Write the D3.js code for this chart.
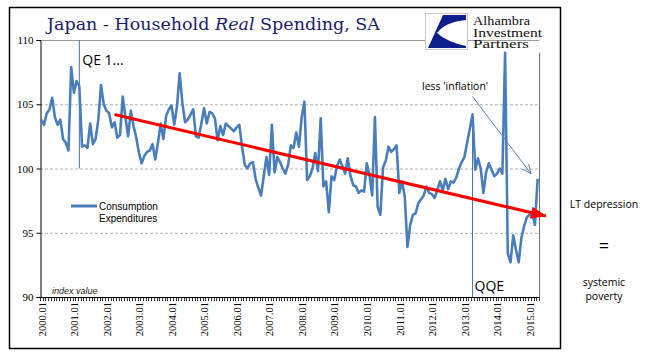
<!DOCTYPE html>
<html>
<head>
<meta charset="utf-8">
<script src="https://cdn.jsdelivr.net/npm/d3@7/dist/d3.min.js"></script>
<style>
  body { margin: 0; background: #fff; }
  svg { display: block; }
</style>
</head>
<body>
<svg id="chart" width="645" height="361"></svg>
<script>
// monthly index values, 2000.01 .. 2015.04
const values = [
  103.8, 103.4, 104.3, 104.6, 105.5, 104.0, 103.4, 103.8, 102.3, 102.0, 101.4, 107.9,
  105.9, 106.8, 106.4, 101.7, 101.8, 101.6, 103.5, 101.9, 102.3, 103.8, 106.5, 105.0,
  104.5, 104.3, 103.2, 103.6, 102.4, 102.6, 105.6, 104.0, 102.5, 104.5, 103.3, 102.4,
  101.2, 100.4, 101.0, 101.3, 101.4, 101.9, 100.7, 102.0, 103.5, 102.3, 104.1, 104.6,
  104.9, 103.4, 104.8, 107.4, 105.1, 103.6, 103.8, 104.2, 104.6, 102.5, 102.4, 103.5,
  104.7, 103.5, 104.4, 104.3, 103.9, 102.2, 103.3, 102.6, 103.5, 103.3, 103.1, 102.9,
  103.2, 103.4, 101.7, 100.3, 100.0, 100.4, 100.5, 99.2, 98.5, 97.9, 99.4, 100.9,
  99.5, 103.4, 99.7, 100.9, 100.5, 100.0, 99.6, 100.3, 101.8, 101.6, 102.8, 101.7,
  104.0, 105.2, 99.1, 99.4, 100.0, 101.2, 99.8, 103.9, 98.6, 99.0, 96.6, 99.4,
  99.1, 100.2, 100.7, 100.2, 99.6, 100.8, 99.4, 98.7, 98.6, 98.1, 98.3, 98.2,
  100.4, 99.5, 97.9, 104.0, 97.0, 96.4, 100.1, 100.6, 101.7, 101.3, 101.5, 101.8,
  98.1, 99.0, 97.8, 93.9, 95.6, 96.4, 96.5, 97.3, 97.6, 97.9, 98.6, 98.1,
  98.0, 97.7, 98.3, 99.0, 98.3, 99.2, 98.4, 99.0, 98.9, 99.3, 100.0, 100.5,
  100.9, 102.0, 103.1, 104.2, 99.9, 100.8, 100.0, 98.1, 99.7, 100.4, 99.9, 99.4,
  99.6, 100.0, 99.6, 109.0, 93.4, 92.7, 94.8, 93.7, 92.7, 94.6, 95.5, 96.2,
  96.4, 96.5, 95.6, 99.2
];
const startYear = 2000;
const categories = values.map((v, i) =>
  `${startYear + Math.floor(i / 12)}.${String(i % 12 + 1).padStart(2, '0')}`);
const xTickLabels = ["2000.01","2001.01","2002.01","2003.01","2004.01","2005.01","2006.01",
  "2007.01","2008.01","2009.01","2010.01","2011.01","2012.01","2013.01","2014.01","2015.01"];
const yTicks = [90, 95, 100, 105, 110];

// annotations (category index, value)
const eventLines = [
  {label: "QE 1...", idx: 14, top: 110, bottom: 100},
  {label: "QQE", idx: 159, top: 104.3, bottom: 90}
];
const trendArrow = {i0: 27, v0: 104.2, i1: 186, v1: 96.3};
const noteArrow = {i0: 159, v0: 105.6, i1: 180.5, v1: 99.6};

const svg = d3.select('#chart');
const plot = {left: 40, right: 539, top: 40, bottom: 297};

const x = d3.scaleBand().domain(categories).range([plot.left, plot.right]).padding(0);
const y = d3.scaleLinear().domain([90, 110]).range([plot.bottom, plot.top]);
const xAt = i => plot.left + x.step() * (i + 0.5);

// frame
svg.append('rect').attr('x', 9.5).attr('y', 7.5).attr('width', 551).attr('height', 341)
  .attr('fill', '#fff').attr('stroke', '#000').attr('stroke-width', 1.5);

// gridlines
svg.append('g').selectAll('line').data(yTicks.filter(t => t > 90)).join('line')
  .attr('x1', plot.left).attr('x2', plot.right)
  .attr('y1', d => y(d) + 0.5).attr('y2', d => y(d) + 0.5)
  .attr('stroke', d => d === 110 ? '#9a9a9a' : '#b0b0b0')
  .attr('stroke-dasharray', d => d === 110 ? null : '3,2')
  .attr('stroke-width', 1);

// y axis
const yAxis = d3.axisLeft(y).tickValues(yTicks).tickSize(4).tickPadding(3);
const gy = svg.append('g').attr('transform', `translate(${plot.left + 0.5},0)`).call(yAxis);
gy.select('.domain').attr('stroke', '#000');
gy.selectAll('text').attr('font-family', 'Liberation Serif').attr('font-size', 11).attr('fill', '#000');

// x axis with month ticks
svg.append('line').attr('x1', plot.left).attr('x2', plot.right)
  .attr('y1', plot.bottom + 0.5).attr('y2', plot.bottom + 0.5).attr('stroke', '#000');
svg.append('g').selectAll('line').data(d3.range(categories.length + 1)).join('line')
  .attr('x1', i => Math.round(plot.left + x.step() * i) + 0.5)
  .attr('x2', i => Math.round(plot.left + x.step() * i) + 0.5)
  .attr('y1', plot.bottom).attr('y2', plot.bottom + 4)
  .attr('stroke', '#000').attr('stroke-width', 0.8);
svg.append('g').selectAll('text').data(xTickLabels).join('text')
  .attr('transform', d => `translate(${x(d) + x.bandwidth() / 2 + 0.5},302) rotate(-90)`)
  .attr('text-anchor', 'end').attr('dy', '0.35em')
  .attr('font-family', 'Liberation Serif').attr('font-size', 10.5).attr('fill', '#000')
  .text(d => d);

svg.append('text').attr('x', 52).attr('y', 294)
  .attr('font-family', 'Liberation Sans').attr('font-style', 'italic')
  .attr('font-size', 9).attr('fill', '#222').text('index value');

// event lines
svg.append('g').selectAll('line').data(eventLines).join('line')
  .attr('x1', d => xAt(d.idx)).attr('x2', d => xAt(d.idx))
  .attr('y1', d => y(d.top)).attr('y2', d => y(d.bottom))
  .attr('stroke', '#4f6f95').attr('stroke-width', 1);
svg.append('line').attr('x1', plot.right + 0.5).attr('x2', plot.right + 0.5)
  .attr('y1', y(109)).attr('y2', plot.bottom).attr('stroke', '#707070').attr('stroke-width', 1);

svg.append('text').attr('x', xAt(14) + 3).attr('y', 65)
  .attr('font-family', 'Open Sans').attr('font-size', 14).attr('fill', '#000').text('QE 1...');
svg.append('text').attr('x', xAt(159) + 2).attr('y', 291)
  .attr('font-family', 'Open Sans').attr('font-size', 14).attr('fill', '#000').text('QQE');

// series
const line = d3.line().x((d, i) => x(categories[i]) + x.bandwidth() / 2).y(d => y(d));
svg.append('path').datum(values).attr('d', line)
  .attr('fill', 'none').attr('stroke', '#4a7ebb').attr('stroke-width', 2.6)
  .attr('stroke-linejoin', 'round');

// arrows
const defs = svg.append('defs');
defs.append('marker').attr('id', 'redhead').attr('markerUnits', 'userSpaceOnUse')
  .attr('viewBox', '0 0 16 12').attr('refX', 15).attr('refY', 6)
  .attr('markerWidth', 16).attr('markerHeight', 12).attr('orient', 'auto')
  .append('path').attr('d', 'M0,0 L16,6 L0,12 Z').attr('fill', '#ff0000');
defs.append('marker').attr('id', 'thinhead').attr('markerUnits', 'userSpaceOnUse')
  .attr('viewBox', '0 0 10 10').attr('refX', 9).attr('refY', 5)
  .attr('markerWidth', 10).attr('markerHeight', 10).attr('orient', 'auto')
  .append('path').attr('d', 'M0,1 L9,5 L0,9').attr('fill', 'none')
  .attr('stroke', '#5b82b5').attr('stroke-width', 1);

svg.append('line')
  .attr('x1', xAt(trendArrow.i0)).attr('y1', y(trendArrow.v0))
  .attr('x2', xAt(trendArrow.i1)).attr('y2', y(trendArrow.v1))
  .attr('stroke', '#ff0000').attr('stroke-width', 3).attr('marker-end', 'url(#redhead)');
svg.append('line')
  .attr('x1', xAt(noteArrow.i0)).attr('y1', y(noteArrow.v0))
  .attr('x2', xAt(noteArrow.i1)).attr('y2', y(noteArrow.v1))
  .attr('stroke', '#5b82b5').attr('stroke-width', 1).attr('marker-end', 'url(#thinhead)');
svg.append('text').attr('x', 422).attr('y', 90)
  .attr('font-family', 'Open Sans').attr('font-size', 10.5).attr('fill', '#000')
  .text("less 'inflation'");

// legend
svg.append('line').attr('x1', 71).attr('x2', 97).attr('y1', 206).attr('y2', 206)
  .attr('stroke', '#4a7ebb').attr('stroke-width', 3);
svg.append('text').attr('font-family', 'Liberation Sans').attr('font-size', 10).attr('fill', '#000')
  .selectAll('tspan').data(['Consumption', 'Expenditures']).join('tspan')
  .attr('x', 99).attr('y', (d, i) => 210 + i * 12).text(d => d);

// title
const title = svg.append('text').attr('x', 47).attr('y', 30)
  .attr('font-family', 'DejaVu Serif').attr('font-size', 17.5).attr('fill', '#1c1c66');
title.append('tspan').text('Japan - Household ');
title.append('tspan').attr('font-style', 'italic').text('Real');
title.append('tspan').text(' Spending, SA');

// logo
const logo = svg.append('g');
logo.append('rect').attr('x', 425.5).attr('y', 13.5).attr('width', 42).attr('height', 36)
  .attr('fill', '#fff').attr('stroke', '#c8c8c8');
logo.append('path')
  .attr('d', 'M443,15 L466,15 L466,20 Q445,22 437,33 Q447,42 466,46 L466,48 L428,48 Z')
  .attr('fill', '#0d1f8c');
logo.append('path')
  .attr('d', 'M466,23 Q448,26 440,33 Q449,41 466,44 Z').attr('fill', '#fff');
const logoLines = [['Alhambra', 25, 57], ['Investment', 36.5, 69], ['Partners', 48, 56]];
logoLines.forEach(([t, yy, w]) => {
  logo.append('text').attr('x', 473).attr('y', yy)
    .attr('font-family', 'Liberation Serif').attr('font-size', 11.5).attr('fill', '#111')
    .attr('textLength', w).attr('lengthAdjust', 'spacingAndGlyphs').text(t);
});

// right side note
const note = svg.append('g').attr('font-family', 'Open Sans').attr('fill', '#000')
  .attr('text-anchor', 'middle');
note.append('text').attr('x', 604).attr('y', 208).attr('font-size', 10.5).text('LT depression');
note.append('text').attr('x', 604).attr('y', 252).attr('font-size', 18).text('=');
note.append('text').attr('x', 604).attr('y', 286).attr('font-size', 10.5).text('systemic');
note.append('text').attr('x', 604).attr('y', 300).attr('font-size', 10.5).text('poverty');
</script>
</body>
</html>
